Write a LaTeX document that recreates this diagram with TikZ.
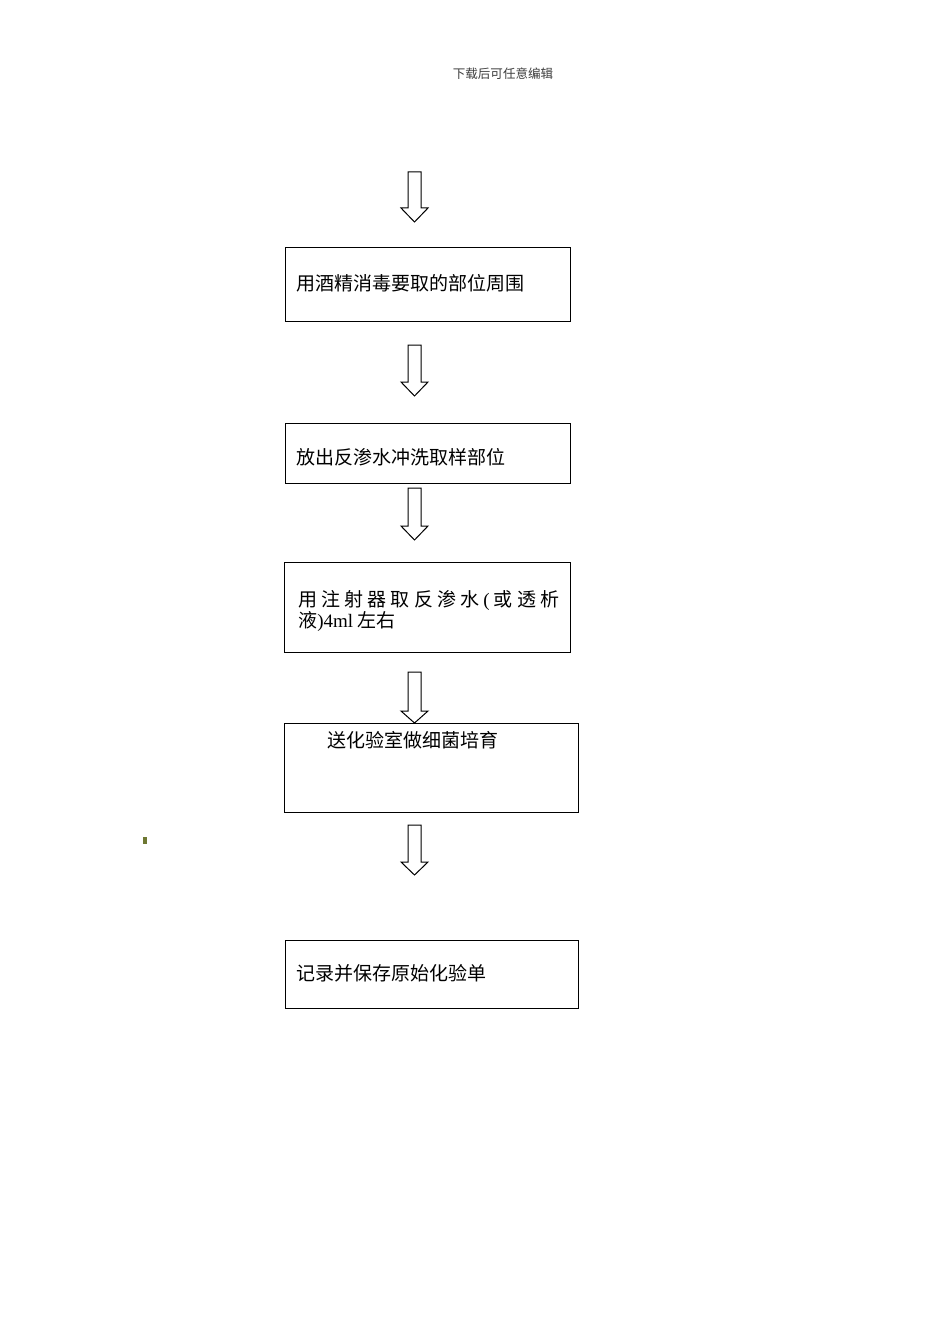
\documentclass[tikz,border=0pt]{standalone}
\usepackage{fontspec}
\setmainfont{Liberation Serif}
\newfontfamily\cjk{Noto Sans CJK SC}
\usepackage{tikz}

\begin{document}
\begin{tikzpicture}[x=0.75pt,y=0.75pt,yscale=-1,xscale=1]
    \useasboundingbox (0,0) rectangle (950,1344); %set diagram to the page size

    % Text Node
    \draw (503,74) node [inner sep=0.75pt, color={rgb, 255:red, 60; green, 60; blue, 60 }] (hdr) {\fontsize{9.4}{11}\selectfont\cjk 下载后可任意编辑};

    %Shape: Down Arrow [id:dp1] 
    \draw [line width=0.75] [fill=white] (408,172) -- (421,172) -- (421,208) -- (428,208) -- (414.5,222) -- (401,208) -- (408,208) -- cycle ;
    %Shape: Rectangle [id:dp2] 
    \draw [line width=0.75] (285,248) -- (570,248) -- (570,321) -- (285,321) -- cycle ;
    %Shape: Down Arrow [id:dp3] 
    \draw [line width=0.75] [fill=white] (408,345) -- (421,345) -- (421,382) -- (428,382) -- (414.5,396) -- (401,382) -- (408,382) -- cycle ;
    %Shape: Rectangle [id:dp4] 
    \draw [line width=0.75] (285,423) -- (570,423) -- (570,483) -- (285,483) -- cycle ;
    %Shape: Down Arrow [id:dp5] 
    \draw [line width=0.75] [fill=white] (408,488) -- (421,488) -- (421,526) -- (428,526) -- (414.5,540) -- (401,526) -- (408,526) -- cycle ;
    %Shape: Rectangle [id:dp6] 
    \draw [line width=0.75] (284,562) -- (570,562) -- (570,652) -- (284,652) -- cycle ;
    %Shape: Down Arrow [id:dp7] 
    \draw [line width=0.75] [fill=white] (408,672) -- (421,672) -- (421,711) -- (428,711) -- (414.5,723) -- (401,711) -- (408,711) -- cycle ;
    %Shape: Rectangle [id:dp8] 
    \draw [line width=0.75] (284,723) -- (578,723) -- (578,812) -- (284,812) -- cycle ;
    %Shape: Down Arrow [id:dp9] 
    \draw [line width=0.75] [fill=white] (408,825) -- (421,825) -- (421,862) -- (428,862) -- (414.5,875) -- (401,862) -- (408,862) -- cycle ;
    %Shape: Rectangle [id:dp10] 
    \draw [line width=0.75] (285,940) -- (578,940) -- (578,1008) -- (285,1008) -- cycle ;
    %Shape: Rectangle [id:dp11] 
    \draw [draw opacity=0][fill={rgb, 255:red, 110; green, 120; blue, 50 }] (143,837) -- (147,837) -- (147,844) -- (143,844) -- cycle ;

    % Text Node
    \draw (295,283) node [anchor=west][inner sep=0.75pt] (t1) {\fontsize{14.25}{17}\selectfont\cjk 用酒精消毒要取的部位周围};
    % Text Node
    \draw (295,457) node [anchor=west][inner sep=0.75pt] (t2) {\fontsize{14.25}{17}\selectfont\cjk 放出反渗水冲洗取样部位};
    % Text Node
    \draw (297,600) node [anchor=west][inner sep=0.75pt] (t3) {\fontsize{14.25}{17}\selectfont\hbox to 195.75pt{\cjk 用\hfil 注\hfil 射\hfil 器\hfil 取\hfil 反\hfil 渗\hfil 水\hfil\rmfamily (\hfil\cjk 或\hfil 透\hfil 析}};
    % Text Node
    \draw (297,622) node [anchor=west][inner sep=0.75pt] (t4) {\fontsize{14.25}{17}\selectfont{\cjk 液}){4ml} {\cjk 左右}};
    % Text Node
    \draw (326,740) node [anchor=west][inner sep=0.75pt] (t5) {\fontsize{14.25}{17}\selectfont\cjk 送化验室做细菌培育};
    % Text Node
    \draw (295,973) node [anchor=west][inner sep=0.75pt] (t6) {\fontsize{14.25}{17}\selectfont\cjk 记录并保存原始化验单};

\end{tikzpicture}
\end{document}
